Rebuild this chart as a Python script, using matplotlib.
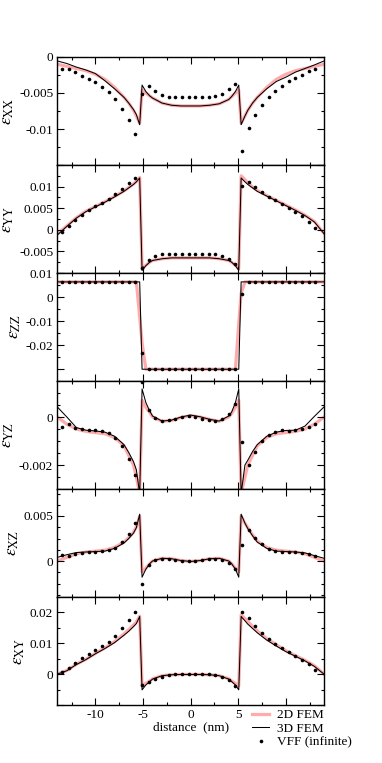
import matplotlib
matplotlib.use('Agg')
import matplotlib.pyplot as plt
from matplotlib.ticker import FixedLocator, FixedFormatter, MultipleLocator

plt.rcParams['font.family'] = ['Liberation Serif', 'DejaVu Serif']
plt.rcParams['mathtext.fontset'] = 'stix'

# ---------------- data ----------------
x_fem = [-14, -13, -12, -11, -10, -9, -8, -7, -6.5, -6, -5.7, -5.35,
         -5.1, -4.7, -4.3, -4, -3, -2, -1, 0, 1, 2, 3, 4, 4.3, 4.7, 5.05,
         5.3, 5.7, 6, 6.5, 7, 8, 9, 10, 11, 12, 13, 14]

x_vff = [-13.5, -12.8, -12.1, -11.4, -10.7, -10.0, -9.3, -8.6, -7.9, -7.2, -6.5, -5.8,
         -5.1, -4.4, -3.7, -3.0, -2.3, -1.6, -0.9, -0.2, 0.5, 1.2, 1.9, 2.6, 3.3, 4.0, 4.7,
         5.4, 6.1, 6.8, 7.5, 8.2, 8.9, 9.6, 10.3, 11.0, 11.7, 12.4, 13.1]

# eps_XX
fem3d_xx = [-0.00055, -0.0009, -0.0014, -0.0018, -0.0023, -0.0033, -0.0044, -0.0056, -0.0064, -0.0073, -0.0080, -0.0094,
            -0.0039, -0.0048, -0.0054, -0.0057, -0.0064, -0.0067, -0.0068, -0.0068, -0.0068, -0.0067, -0.0065, -0.0059, -0.0055, -0.0048, -0.0039,
            -0.0094, -0.0082, -0.0074, -0.0064, -0.0056, -0.0044, -0.0034, -0.0028, -0.0021, -0.0016, -0.0011, -0.00055]
fem2d_xx = [-0.0010, -0.0013, -0.0016, -0.0019, -0.0024, -0.0031, -0.0042, -0.0056, -0.0064, -0.0074, -0.0082, -0.0092,
            -0.0046, -0.0050, -0.0054, -0.0057, -0.0064, -0.0067, -0.0068, -0.0068, -0.0068, -0.0067, -0.0065, -0.0059, -0.0055, -0.0050, -0.0046,
            -0.0092, -0.0082, -0.0074, -0.0064, -0.0056, -0.0042, -0.0031, -0.0024, -0.0019, -0.0016, -0.0013, -0.0010]
vff_xx = [-0.0017, -0.0017, -0.0021, -0.0026, -0.0031, -0.0035, -0.0041, -0.0049, -0.0059, -0.0072, -0.0088, -0.0107,
          -0.0052, -0.0040, -0.0047, -0.0053, -0.0055, -0.0055, -0.0055, -0.0055, -0.0055, -0.0055, -0.0055, -0.0054, -0.0051, -0.0045, -0.0038,
          -0.0130, -0.0098, -0.0081, -0.0067, -0.0056, -0.0047, -0.0040, -0.0034, -0.0029, -0.0025, -0.0020, -0.0017]

# eps_YY
fem3d_yy = [-0.0012, 0.0008, 0.0027, 0.0042, 0.0053, 0.0064, 0.0076, 0.0089, 0.0097, 0.0105, 0.0111, 0.0120,
            -0.0094, -0.0083, -0.0075, -0.0071, -0.0067, -0.0065, -0.0065, -0.0065, -0.0065, -0.0065, -0.0067, -0.0071, -0.0075, -0.0083, -0.0094,
            0.0120, 0.0111, 0.0105, 0.0097, 0.0089, 0.0078, 0.0067, 0.0056, 0.0045, 0.0033, 0.0018, -0.0009]
fem2d_yy = [-0.0010, 0.0009, 0.0028, 0.0043, 0.0054, 0.0065, 0.0077, 0.0090, 0.0098, 0.0106, 0.0112, 0.0121,
            -0.0090, -0.0082, -0.0075, -0.0071, -0.0067, -0.0065, -0.0065, -0.0065, -0.0065, -0.0065, -0.0067, -0.0071, -0.0075, -0.0082, -0.0090,
            0.0125, 0.0116, 0.0109, 0.0099, 0.0091, 0.0079, 0.0068, 0.0057, 0.0046, 0.0034, 0.0019, -0.0008]
vff_yy = [-0.0006, 0.0008, 0.0023, 0.0034, 0.0045, 0.0054, 0.0063, 0.0072, 0.0083, 0.0095, 0.0109, 0.0120,
          -0.0088, -0.0069, -0.0060, -0.0056, -0.0055, -0.0055, -0.0055, -0.0055, -0.0055, -0.0055, -0.0055, -0.0056, -0.0060, -0.0067, -0.0079,
          0.0102, 0.0111, 0.0099, 0.0088, 0.0077, 0.0069, 0.0059, 0.0050, 0.0041, 0.0031, 0.0018, 0.0004]

# eps_ZZ
fem3d_zz = [0.0063, 0.0063, 0.0063, 0.0063, 0.0063, 0.0063, 0.0063, 0.0063, 0.0063, 0.0063, 0.0063, 0.0063,
            -0.0301, -0.0301, -0.0301, -0.0301, -0.0301, -0.0301, -0.0301, -0.0301, -0.0301, -0.0301, -0.0301, -0.0301, -0.0301, -0.0301, -0.0301,
            0.0063, 0.0063, 0.0063, 0.0063, 0.0063, 0.0063, 0.0063, 0.0063, 0.0063, 0.0063, 0.0063, 0.0063]
fem2d_zz = [0.0063, 0.0063, 0.0063, 0.0063, 0.0063, 0.0063, 0.0063, 0.0063, 0.0063, 0.0063, 0.0063, -0.0083,
            -0.0190, -0.0301, -0.0301, -0.0301, -0.0301, -0.0301, -0.0301, -0.0301, -0.0301, -0.0301, -0.0301, -0.0301, -0.0301, -0.0301, -0.0110,
            0.0016, 0.0063, 0.0063, 0.0063, 0.0063, 0.0063, 0.0063, 0.0063, 0.0063, 0.0063, 0.0063, 0.0063]
vff_zz = [0.0063, 0.0063, 0.0063, 0.0063, 0.0063, 0.0063, 0.0063, 0.0063, 0.0063, 0.0063, 0.0063, 0.0063,
          -0.0235, -0.0301, -0.0301, -0.0301, -0.0301, -0.0301, -0.0301, -0.0301, -0.0301, -0.0301, -0.0301, -0.0301, -0.0301, -0.0301, -0.0301,
          0.0013, 0.0063, 0.0063, 0.0063, 0.0063, 0.0063, 0.0063, 0.0063, 0.0063, 0.0063, 0.0063, 0.0063]

# eps_YZ
fem3d_yz = [0.00042, 0.0, -0.00044, -0.00055, -0.00058, -0.00063, -0.0008, -0.00115, -0.00148, -0.00186, -0.0022, -0.0032,
            0.00117, 0.0006, 0.00025, 0.00004, -0.00017, -0.00013, 0.0, 0.00008, 0.00001, -0.0001, -0.00017, 0.00004, 0.0002, 0.0006, 0.00117,
            -0.0032, -0.0020, -0.0018, -0.00144, -0.00115, -0.0008, -0.00063, -0.00056, -0.00055, -0.00038, 0.00003, 0.00042]
fem2d_yz = [0.0, -0.0003, -0.0005, -0.0006, -0.00065, -0.0007, -0.00085, -0.0012, -0.0016, -0.0020, -0.0025, -0.0032,
            0.0007, 0.0004, 0.0002, 0.0, -0.00018, -0.00014, -0.00002, 0.00006, 0.0, -0.0001, -0.00018, 0.0, 0.00015, 0.0004, 0.0007,
            -0.0032, -0.0025, -0.0020, -0.0016, -0.0012, -0.00085, -0.0007, -0.00065, -0.0006, -0.0005, -0.0003, 0.0]
vff_yz = [-0.00041, -0.00031, -0.00045, -0.00052, -0.00055, -0.00056, -0.00059, -0.00066, -0.00087, -0.0012, -0.00176, -0.0024,
          0.00145, 0.00028, -0.00006, -0.00017, -0.00013, -0.00007, 0.0, 0.00004, 0.00001, -0.00007, -0.00014, -0.00017, -0.00007, 0.00011, 0.00053,
          -0.00104, -0.0020, -0.00146, -0.00099, -0.00077, -0.00063, -0.00056, -0.00058, -0.00055, -0.00052, -0.00041, -0.00028]

# eps_XZ
fem3d_xz = [0.0004, 0.0007, 0.00094, 0.0010, 0.00105, 0.0011, 0.0014, 0.0020, 0.0025, 0.0031, 0.0037, 0.0052,
            -0.0018, -0.0009, -0.0003, 0.0, 0.0003, 0.00025, 0.00005, -0.00005, 0.00005, 0.00025, 0.0003, 0.0, -0.0003, -0.0009, -0.0018,
            0.0052, 0.0042, 0.0036, 0.0028, 0.0021, 0.0014, 0.0011, 0.00105, 0.0010, 0.0009, 0.0006, 0.0003]
fem2d_xz = [0.0, 0.0004, 0.0008, 0.0010, 0.0011, 0.0012, 0.0015, 0.0021, 0.0026, 0.0032, 0.0038, 0.0050,
            -0.0012, -0.0008, -0.0003, 0.0, 0.0003, 0.00025, 0.00005, -0.00005, 0.00005, 0.00025, 0.0003, 0.0, -0.0003, -0.0008, -0.0012,
            0.0050, 0.0042, 0.0037, 0.0029, 0.0022, 0.0015, 0.0012, 0.0011, 0.0010, 0.0008, 0.0004, 0.0]
vff_xz = [0.00068, 0.00056, 0.00079, 0.00094, 0.0010, 0.0010, 0.0011, 0.0012, 0.0015, 0.0021, 0.0030, 0.0042,
          -0.0025, -0.00045, 0.00008, 0.00026, 0.00026, 0.0001, 0.0, 0.0, 0.0, 0.00008, 0.00023, 0.00026, 0.0001, -0.00026, -0.00094,
          0.0018, 0.0034, 0.0026, 0.0019, 0.00135, 0.0011, 0.00105, 0.0010, 0.0010, 0.0009, 0.00075, 0.00056]

# eps_XY
fem3d_xy = [0.0, 0.0011, 0.0031, 0.0047, 0.0066, 0.0083, 0.0102, 0.0126, 0.0139, 0.0154, 0.0164, 0.0187,
            -0.0051, -0.0035, -0.0024, -0.0016, -0.0005, -0.0002, -0.0001, -0.0001, -0.0001, -0.0002, -0.0005, -0.0016, -0.0024, -0.0035, -0.0051,
            0.0187, 0.0173, 0.0162, 0.0148, 0.0134, 0.0110, 0.0091, 0.0073, 0.0058, 0.0043, 0.0025, 0.0]
fem2d_xy = [0.0, 0.0012, 0.0032, 0.0048, 0.0067, 0.0085, 0.0105, 0.0130, 0.0144, 0.0159, 0.0169, 0.0188,
            -0.0038, -0.0030, -0.0022, -0.0015, -0.0005, -0.0002, -0.0001, -0.0001, -0.0001, -0.0002, -0.0005, -0.0015, -0.0022, -0.0030, -0.0038,
            0.0192, 0.0180, 0.0170, 0.0155, 0.0140, 0.0115, 0.0095, 0.0076, 0.0060, 0.0045, 0.0027, 0.0]
vff_xy = [0.00055, 0.0020, 0.0036, 0.0051, 0.0066, 0.0077, 0.0091, 0.0105, 0.0124, 0.0148, 0.0174, 0.0200,
          -0.0034, -0.0027, -0.0016, -0.0008, -0.0003, -0.0001, 0.0, 0.0, 0.0, 0.0, -0.0001, -0.0003, -0.0008, -0.0019, -0.0040,
          0.0203, 0.0181, 0.0156, 0.0134, 0.0115, 0.0099, 0.0085, 0.0072, 0.0060, 0.0047, 0.0034, 0.0014]

ylabels = [r'$\varepsilon_{\mathrm{XX}}$', r'$\varepsilon_{\mathrm{YY}}$', r'$\varepsilon_{\mathrm{ZZ}}$',
           r'$\varepsilon_{\mathrm{YZ}}$', r'$\varepsilon_{\mathrm{XZ}}$', r'$\varepsilon_{\mathrm{XY}}$']
ylims = [(-0.015, 0.0), (-0.01, 0.015), (-0.035, 0.01), (-0.003, 0.0015), (-0.004, 0.008), (-0.01, 0.025)]
ymajor = [[-0.015, -0.01, -0.005, 0.0], [-0.01, -0.005, 0.0, 0.005, 0.01, 0.015],
          [-0.03, -0.02, -0.01, 0.0, 0.01], [-0.002, 0.0], [0.0, 0.005], [-0.01, 0.0, 0.01, 0.02]]
ymajor_labels = [['', '-0.01', '-0.005', '0'], ['', '-0.005', '0', '0.005', '0.01', ''],
                 ['', '-0.02', '-0.01', '0', '0.01'], ['-0.002', '0'], ['0', '0.005'], ['', '0', '0.01', '0.02']]
yminor_step = [0.0025, 0.0025, 0.005, 0.0005, 0.00125, 0.005]
xticks = [-10, -5, 0, 5, 10]
xtick_labels = ['-10', '-5', '0', '5', '']

series_2d = [fem2d_xx, fem2d_yy, fem2d_zz, fem2d_yz, fem2d_xz, fem2d_xy]
series_3d = [fem3d_xx, fem3d_yy, fem3d_zz, fem3d_yz, fem3d_xz, fem3d_xy]
series_vff = [vff_xx, vff_yy, vff_zz, vff_yz, vff_xz, vff_xy]

PINK = '#ffabab'
W, H = 382, 763
fig = plt.figure(figsize=(W / 100, H / 100), dpi=100)
left_px, right_px, top_px, panel_h = 57.3, 324.0, 57.0, 108.0

for i in range(6):
    y0 = 1 - (top_px + (i + 1) * panel_h) / H
    ax = fig.add_axes([left_px / W, y0, (right_px - left_px) / W, panel_h / H])
    l2, = ax.plot(x_fem, series_2d[i], color=PINK, lw=2.3, zorder=1, label='2D FEM')
    l3, = ax.plot(x_fem, series_3d[i], color='black', lw=0.75, zorder=2, label='3D FEM')
    lv, = ax.plot(x_vff, series_vff[i], 'o', ms=2.6, color='black', mec='none', zorder=3,
                  label='VFF (infinite)')
    ax.set_xlim(-14, 14)
    ax.set_ylim(*ylims[i])
    ax.xaxis.set_major_locator(FixedLocator(xticks))
    ax.xaxis.set_minor_locator(MultipleLocator(2.5))
    ax.yaxis.set_major_locator(FixedLocator(ymajor[i]))
    ax.yaxis.set_major_formatter(FixedFormatter(ymajor_labels[i]))
    ax.yaxis.set_minor_locator(MultipleLocator(yminor_step[i]))
    if i == 5:
        ax.xaxis.set_major_formatter(FixedFormatter(xtick_labels))
        ax.set_xlabel('distance  (nm)', fontsize=9.5, labelpad=0)
    else:
        ax.tick_params(axis='x', labelbottom=False)
    ax.tick_params(which='both', direction='in', top=True, right=True, labelsize=9.5, pad=3, width=0.8)
    ax.tick_params(which='major', length=5)
    ax.tick_params(which='minor', length=2.5)
    for s in ax.spines.values():
        s.set_linewidth(1.0)
    ax.set_ylabel(ylabels[i], fontsize=12.5, labelpad=2)

fig.legend(handles=[l2, l3, lv], loc='upper left', bbox_to_anchor=(252 / W, 1 - 709 / H),
           frameon=False, fontsize=9.5, borderpad=0, borderaxespad=0, handlelength=1.3,
           handletextpad=0.6, labelspacing=0.1, markerscale=1.0)

fig.savefig('out.png', dpi=100)
